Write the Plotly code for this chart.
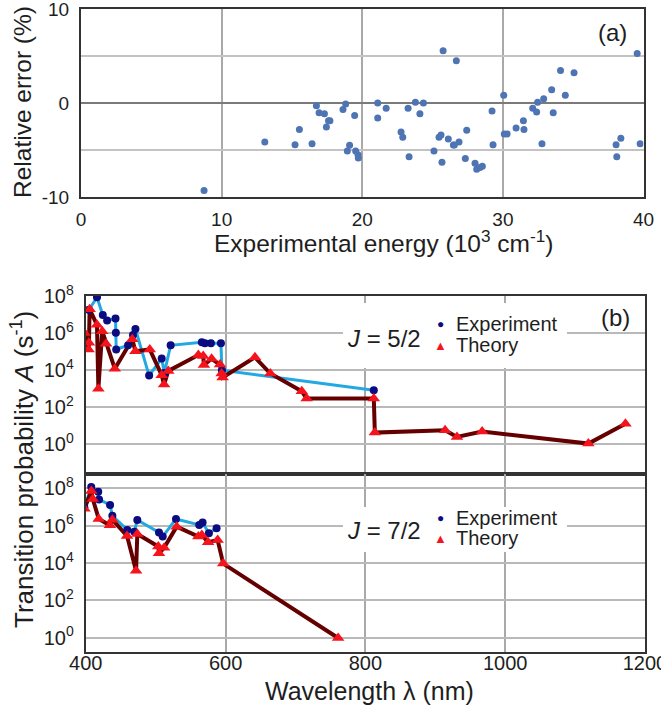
import plotly.graph_objects as go

# ---------------- (a) relative error vs experimental energy ----------------
energy = [8.75, 13.07, 15.22, 15.53, 16.43, 16.74, 16.93, 17.31, 17.60, 17.70,
          17.45, 18.63, 18.82, 19.46, 19.10, 18.94, 19.53, 19.70, 19.72, 21.10,
          21.10, 21.70, 23.26, 23.78, 24.35, 24.10, 22.76, 22.88, 23.33, 25.10,
          25.67, 25.46, 25.60, 25.75, 26.12, 26.48, 26.55, 26.69, 26.88, 27.33,
          27.43, 28.02, 28.14, 28.37, 28.54, 29.23, 29.30, 30.06, 30.10, 30.30,
          30.94, 31.46, 31.50, 32.12, 32.40, 32.47, 32.78, 32.90, 33.47, 33.58,
          34.10, 34.44, 35.06, 38.05, 38.10, 38.39, 39.55, 39.76]
rel_error = [-9.3, -4.16, -4.44, -2.83, -4.33, -0.29, -1.04, -1.15, -1.9, -1.9,
             -2.55, -0.68, -0.11, -1.33, -4.5, -5.1, -5.1, -5.5, -5.85, 0.0,
             -1.6, -0.57, -0.57, 0.07, 0.0, -1.15, -3.08, -3.65, -5.73, -5.1,
             -6.3, -3.65, -3.4, 5.56, -3.84, -4.48, -4.48, 4.5, -4.16, -5.9,
             -2.9, -6.42, -7.06, -6.85, -6.74, -0.86, -4.44, 0.82, -3.3, -3.3,
             -2.65, -1.9, -2.83, -0.57, -0.97, 0.07, -4.33, 0.46, 1.4, -1.04,
             3.47, 0.82, 3.22, -4.44, -5.73, -3.76, 5.27, -4.33]

# ---------------- (b) transition probabilities, J = 5/2 ----------------
wl_exp_52 = [404.5, 416.0, 424.3, 430.5, 442.5, 443.0, 443.5, 460.5, 467.5, 471.0,
             490.6, 508.6, 512.3, 521.4, 566.0, 570.4, 579.0, 593.3, 594.7, 812.0]
a_exp_52 = [1.8e7, 8.5e7, 9.5e6, 4.7e6, 6.2e6, 1.05e6, 1.3e5, 2.2e5, 7.9e5, 1.66e6,
            5.1e3, 4.3e4, 7.1e3, 2.2e5, 3.2e5, 2.8e5, 2.8e5, 2.8e5, 1.0e4, 8.3e2]

wl_th_52 = [398.0, 404.0, 404.5, 405.5, 416.0, 418.0, 423.5, 429.0, 441.5, 466.5,
            471.0, 491.5, 508.6, 512.0, 518.0, 561.0, 568.0, 569.0, 580.0, 592.0,
            594.3, 595.7, 642.0, 664.0, 709.0, 716.0, 812.0, 813.5, 914.0, 931.0,
            967.0, 1119.0, 1172.0]
a_th_52 = [1.0e6, 1.3e5, 3.0e5, 1.9e7, 2.8e6, 1.0e3, 1.26e6, 2.7e5, 1.2e4, 4.6e5,
           1.05e5, 1.3e5, 5.4e3, 1.7e3, 9.1e3, 6.5e4, 5.8e4, 1.9e4, 4.1e4, 2.0e4,
           6.6e3, 4.0e3, 4.9e4, 6.6e3, 7.2e2, 3.0e2, 3.0e2, 4.3, 5.8, 2.5,
           4.9, 1.1, 13.0]

# ---------------- (b) transition probabilities, J = 7/2 ----------------
wl_exp_72 = [398.0, 407.8, 417.8, 419.0, 434.7, 438.0, 459.4, 469.4, 473.7, 504.7,
             510.0, 529.0, 562.3, 567.1, 576.1, 587.1]
a_exp_72 = [9.5e6, 1.2e8, 6.6e7, 2.5e7, 1.3e7, 3.4e6, 5.9e5, 4.8e5, 2.0e6, 4.3e5,
            2.6e5, 2.3e6, 1.1e6, 1.5e6, 3.9e5, 7.2e5]

wl_th_72 = [398.0, 408.0, 410.0, 418.5, 434.5, 438.0, 459.0, 471.9, 473.7, 503.7,
            504.7, 512.0, 530.0, 561.0, 566.0, 575.0, 588.6, 596.6, 761.0]
a_th_72 = [8.1e6, 7.2e7, 2.7e7, 2.3e6, 1.05e6, 2.1e6, 2.8e5, 3.8e3, 3.6e5, 7.6e4,
           3.3e4, 6.6e4, 8.9e5, 2.6e5, 3.2e5, 1.3e5, 1.7e5, 9.3e3, 0.95]

# axis ticks
energy_ticks = [0, 10, 20, 30, 40]
error_ticks = [-10, -5, 0, 5, 10]
error_labels = ["-10", "", "0", "", "10"]
wl_ticks = [400, 600, 800, 1000, 1200]
a_ticks = [1, 1e2, 1e4, 1e6, 1e8]
a_labels = ["10<sup>0</sup>", "10<sup>2</sup>", "10<sup>4</sup>",
            "10<sup>6</sup>", "10<sup>8</sup>"]

FONT = "Liberation Sans, Arial, sans-serif"
TXT = "#1e1e1e"
EXP_LINE = "#22a9e1"
EXP_DOT = "#0b0b82"
TH_LINE = "#660000"
TH_MARK = "#f5141c"

# page geometry (pixels) -> paper coordinates
W, H = 661, 712
ML, MR, MT, MB = 81, 16, 9, 60
PW, PH = W - ML - MR, H - MT - MB


def px(x):
    return (x - ML) / PW


def py(y):
    return (H - MB - y) / PH


fig = go.Figure()

fig.add_trace(go.Scatter(
    x=energy, y=rel_error, mode="markers",
    marker=dict(color="#4e74b4", size=7),
    xaxis="x", yaxis="y", showlegend=False, hoverinfo="x+y"))

for wl_e, a_e, wl_t, a_t, ya, xa in [
        (wl_exp_52, a_exp_52, wl_th_52, a_th_52, "y2", "x2"),
        (wl_exp_72, a_exp_72, wl_th_72, a_th_72, "y3", "x3")]:
    fig.add_trace(go.Scatter(x=wl_e, y=a_e, mode="lines",
                             line=dict(color=EXP_LINE, width=3),
                             xaxis=xa, yaxis=ya, showlegend=False))
    fig.add_trace(go.Scatter(x=wl_t, y=a_t, mode="lines",
                             line=dict(color=TH_LINE, width=4),
                             xaxis=xa, yaxis=ya, showlegend=False))
    fig.add_trace(go.Scatter(x=wl_e, y=a_e, mode="markers", name="Experiment",
                             marker=dict(color=EXP_DOT, size=8),
                             xaxis=xa, yaxis=ya, showlegend=False))
    fig.add_trace(go.Scatter(x=wl_t, y=a_t, mode="markers", name="Theory",
                             marker=dict(color=TH_MARK, size=11, symbol="triangle-up"),
                             xaxis=xa, yaxis=ya, showlegend=False))

frame = dict(showline=True, mirror=True, linecolor="#333333", linewidth=2,
             ticks="", zeroline=False, automargin=False)

dom_a = [0.0, px(643.5)]
dom_b = [px(85.8), 1.0]

fig.update_layout(
    template="none",
    width=W, height=H,
    margin=dict(l=ML, r=MR, t=MT, b=MB, autoexpand=False),
    paper_bgcolor="white", plot_bgcolor="white",
    font=dict(family=FONT, color=TXT),
    showlegend=False,
    xaxis=dict(frame, domain=dom_a, range=[0, 40], anchor="y",
               tickvals=energy_ticks, showgrid=True, gridcolor="#a9a9a9",
               gridwidth=1.5, tickfont=dict(size=19, color=TXT),
               ticklabelstandoff=4, ticklabeloverflow="allow"),
    yaxis=dict(frame, domain=[py(197), py(9)], range=[-10, 10], anchor="x",
               tickvals=error_ticks, ticktext=error_labels, showgrid=True,
               gridcolor="#c3c3c3", gridwidth=1.5,
               zeroline=True, zerolinecolor="#7a7a7a", zerolinewidth=2,
               tickfont=dict(size=19, color=TXT), ticklabelstandoff=6,
               ticklabeloverflow="allow"),
    xaxis2=dict(frame, domain=dom_b, range=[400, 1200], anchor="y2",
                matches="x3", tickvals=wl_ticks, showticklabels=False,
                showgrid=True, gridcolor="#a9a9a9", gridwidth=1.5),
    yaxis2=dict(frame, domain=[py(474), py(296)], type="log", range=[-1.6, 8.0],
                anchor="x2", tickvals=a_ticks, ticktext=a_labels,
                showgrid=True, gridcolor="#b9b9b9", gridwidth=1.5,
                tickfont=dict(size=20, color=TXT), ticklabelstandoff=6,
                ticklabeloverflow="allow"),
    xaxis3=dict(frame, domain=dom_b, range=[400, 1200], anchor="y3",
                tickvals=wl_ticks, showgrid=True, gridcolor="#a9a9a9",
                gridwidth=1.5, tickfont=dict(size=20, color=TXT),
                ticklabelstandoff=-8, ticklabeloverflow="allow"),
    yaxis3=dict(frame, domain=[0.0, py(474)], type="log", range=[-0.77, 8.77],
                anchor="x3", tickvals=a_ticks, ticktext=a_labels,
                showgrid=True, gridcolor="#b9b9b9", gridwidth=1.5,
                tickfont=dict(size=20, color=TXT), ticklabelstandoff=6,
                ticklabeloverflow="allow"),
)

# white panels behind the in-plot key text
for y0, y1 in [(303, 368), (507, 552)]:
    fig.add_shape(type="rect", xref="paper", yref="paper",
                  x0=px(343), x1=px(567), y0=py(y1), y1=py(y0),
                  fillcolor="white", line=dict(width=0), layer="above")


def note(text, x, y, size, xanchor="center", **kw):
    fig.add_annotation(text=text, xref="paper", yref="paper", x=px(x), y=py(y),
                       xanchor=xanchor, yanchor="middle", showarrow=False,
                       font=dict(size=size, family=FONT,
                                 color=kw.pop("color", TXT)),
                       **kw)


note("Relative error (%)", 22, 102, 24.5, textangle=-90)
note("Experimental energy (10<sup>3</sup> cm<sup>-1</sup>)", 383, 242, 24.5)
note("(a)", 612, 32, 24)
note("Transition probability <i>A</i> (s<sup>-1</sup>)", 22, 470, 26, textangle=-90)
note("Wavelength λ (nm)", 369, 691, 25)
note("(b)", 615, 318, 24)

for jtxt, yj, ye, yt in [("<i>J</i> = 5/2", 338, 324, 345),
                         ("<i>J</i> = 7/2", 530, 518, 538)]:
    note(jtxt, 384, yj, 24)
    note("●", 440.5, ye, 12, color=EXP_DOT)
    note("▲", 440.5, yt, 13, color=TH_MARK)
    note("Experiment", 454, ye, 20, xanchor="left")
    note("Theory", 454, yt, 20, xanchor="left")

fig.write_html("out.html")
